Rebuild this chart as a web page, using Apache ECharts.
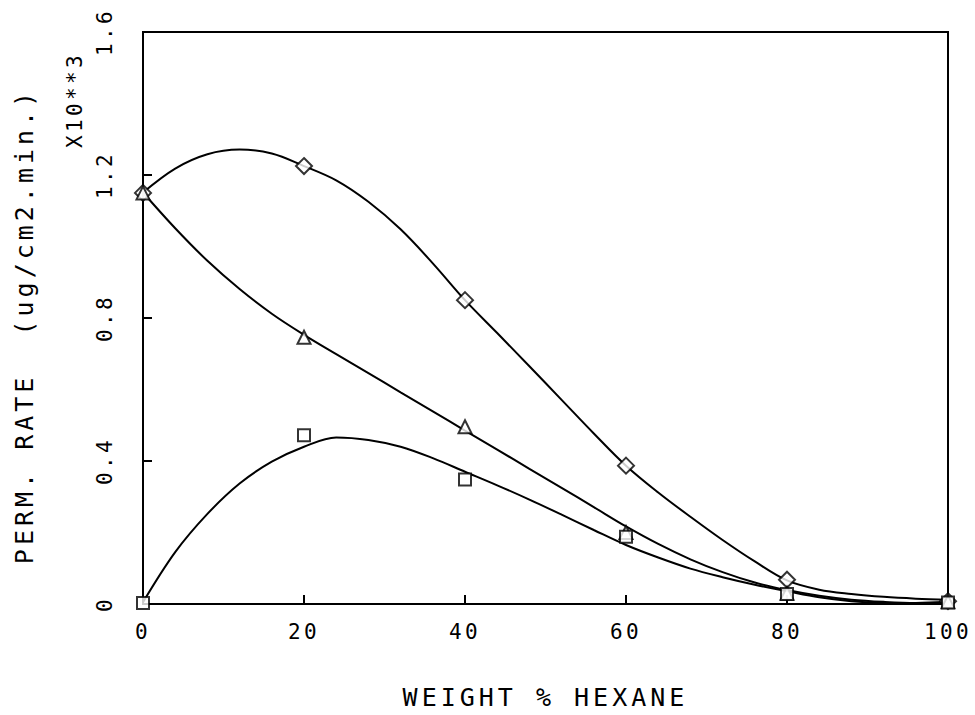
<!DOCTYPE html>
<html>
<head>
<meta charset="utf-8">
<script src="https://cdn.jsdelivr.net/npm/echarts@6/dist/echarts.min.js"></script>
<style>
  html, body { margin: 0; padding: 0; background: #fff; }
  #chart { width: 975px; height: 715px; }
  /* plotter-style wide lettering */
  #chart text { letter-spacing: 0.16em; }
</style>
</head>
<body>
<div id="chart"></div>
<script>
// Measured permeation rates (x10^3 ug/cm2.min) vs weight % hexane
const hexanePct    = [0, 20, 40, 60, 80, 100];
const rateDiamond  = [1.150, 1.225, 0.850, 0.387, 0.068, 0.008];
const rateTriangle = [1.150, 0.746, 0.496, 0.200, 0.030, 0.006];
const rateSquare   = [0.003, 0.472, 0.348, 0.188, 0.028, 0.004];

// Fitted curves, sampled every 4 % hexane
const fitPct      = [0, 4, 8, 12, 16, 20, 24, 28, 32, 36, 40, 44, 48, 52, 56, 60, 64, 68, 72, 76, 80, 84, 88, 92, 96, 100];
const fitDiamond  = [1.151, 1.218, 1.258, 1.271, 1.260, 1.225, 1.185, 1.125, 1.048, 0.953, 0.850, 0.758, 0.665, 0.571, 0.477, 0.387, 0.312, 0.244, 0.179, 0.119, 0.066, 0.040, 0.028, 0.020, 0.015, 0.012];
const fitTriangle = [1.151, 1.051, 0.960, 0.881, 0.812, 0.753, 0.699, 0.646, 0.592, 0.539, 0.485, 0.432, 0.378, 0.325, 0.271, 0.217, 0.168, 0.125, 0.089, 0.060, 0.039, 0.023, 0.012, 0.006, 0.003, 0.006];
const fitSquare   = [0.005, 0.145, 0.252, 0.337, 0.398, 0.440, 0.466, 0.459, 0.440, 0.408, 0.370, 0.332, 0.292, 0.250, 0.207, 0.165, 0.130, 0.099, 0.075, 0.054, 0.036, 0.019, 0.008, 0.003, 0.002, 0.004];

// Axis tick values
const xTicks = [0, 20, 40, 60, 80, 100];
const yTicks = [0, 0.4, 0.8, 1.2, 1.6];

const FONT = "'DejaVu Sans Mono', 'Liberation Mono', monospace";
const pair = (xs, ys) => xs.map((x, i) => [x, ys[i]]);

const chart = echarts.init(document.getElementById('chart'), null, { renderer: 'svg' });

function curve(ys) {
  return {
    type: 'line',
    data: pair(fitPct, ys),
    smooth: 0.35,
    showSymbol: false,
    silent: true,
    lineStyle: { color: '#000', width: 2 },
    z: 2
  };
}

function points(ys, symbol, size) {
  return {
    type: 'scatter',
    data: pair(hexanePct, ys),
    symbol: symbol,
    symbolSize: size,
    itemStyle: { color: '#fff', borderColor: '#000', borderWidth: 2 },
    silent: true,
    z: 5
  };
}

chart.setOption({
  animation: false,
  backgroundColor: '#fff',
  grid: {
    left: 143, right: 27, top: 32, bottom: 109,
    show: true, borderColor: '#000', borderWidth: 2, backgroundColor: 'transparent'
  },
  xAxis: {
    type: 'value',
    min: xTicks[0], max: xTicks[xTicks.length - 1], interval: 20,
    name: 'WEIGHT % HEXANE',
    nameLocation: 'middle',
    nameGap: 81,
    nameTextStyle: { fontFamily: FONT, fontSize: 25, color: '#000' },
    axisLine: { lineStyle: { color: '#000', width: 2 } },
    axisTick: { inside: true, length: 9, lineStyle: { color: '#000', width: 2 } },
    axisLabel: {
      margin: 17, fontFamily: FONT, fontSize: 21, color: '#000',
      formatter: v => String(v)
    },
    splitLine: { show: false }
  },
  yAxis: {
    type: 'value',
    min: yTicks[0], max: yTicks[yTicks.length - 1], interval: 0.4,
    name: 'PERM. RATE  (ug/cm2.min.)',
    nameLocation: 'middle',
    nameRotate: 90,
    nameGap: 106,
    nameTextStyle: { fontFamily: FONT, fontSize: 25, color: '#000', padding: [0, 16, 0, 0] },
    axisLine: { lineStyle: { color: '#000', width: 2 } },
    axisTick: { inside: true, length: 9, lineStyle: { color: '#000', width: 2 } },
    axisLabel: {
      rotate: 90, margin: 28, fontFamily: FONT, fontSize: 21, color: '#000',
      formatter: v => (v === 0 ? '0' : v.toFixed(1))
    },
    splitLine: { show: false }
  },
  graphic: [{
    type: 'text',
    x: 75, y: 100,
    rotation: Math.PI / 2,
    style: {
      text: 'X10**3',
      fontFamily: FONT, fontSize: 21, fill: '#000',
      align: 'center', verticalAlign: 'middle'
    },
    silent: true
  }],
  series: [
    curve(fitDiamond),
    curve(fitTriangle),
    curve(fitSquare),
    points(rateDiamond, 'diamond', 16),
    points(rateTriangle, 'triangle', 13),
    points(rateSquare, 'rect', 12)
  ]
});
</script>
</body>
</html>
